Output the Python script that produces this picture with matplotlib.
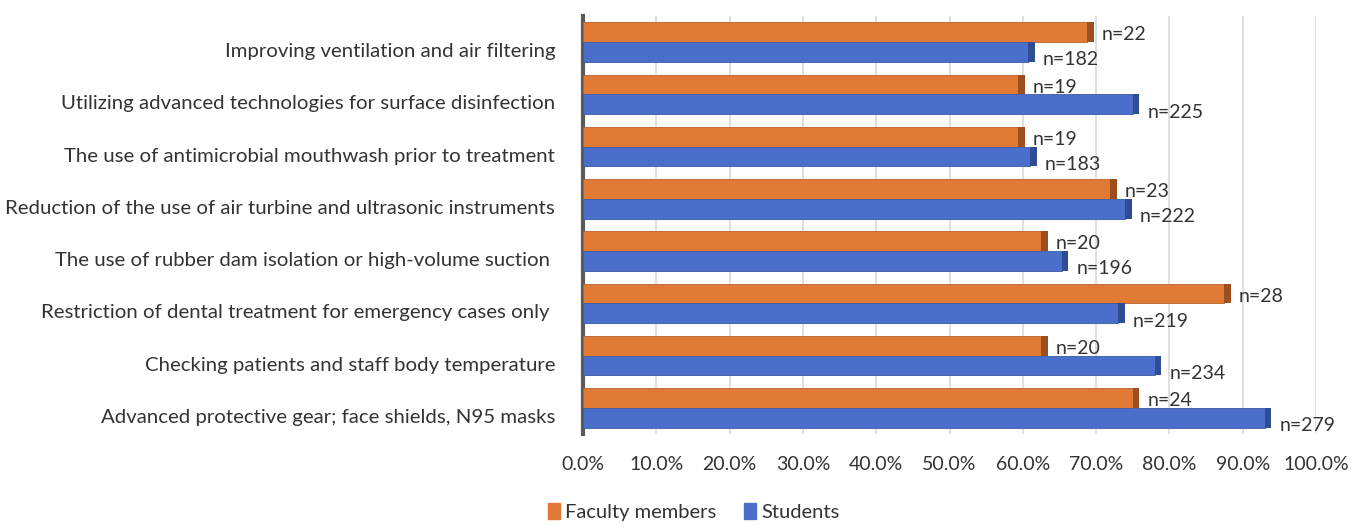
import matplotlib.pyplot as plt
import matplotlib.transforms as mtransforms
from matplotlib.patches import Patch

# datos (porcentajes)
categories = [
    "Improving ventilation and air filtering",
    "Utilizing advanced technologies for surface disinfection",
    "The use of antimicrobial mouthwash prior to treatment",
    "Reduction of the use of air turbine and ultrasonic instruments",
    "The use of rubber dam isolation or high-volume suction ",
    "Restriction of dental treatment for emergency cases only ",
    "Checking patients and staff body temperature",
    "Advanced protective gear; face shields, N95 masks",
]
faculty_pct = [68.8, 59.4, 59.4, 71.9, 62.5, 87.5, 62.5, 75.0]
students_pct = [60.7, 75.0, 61.0, 74.0, 65.3, 73.0, 78.0, 93.0]
faculty_n = ["n=22", "n=19", "n=19", "n=23", "n=20", "n=28", "n=20", "n=24"]
students_n = ["n=182", "n=225", "n=183", "n=222", "n=196", "n=219", "n=234", "n=279"]
xticks = [0, 10, 20, 30, 40, 50, 60, 70, 80, 90, 100]

plt.rcParams['font.family'] = ['Lato', 'DejaVu Sans']

orange = "#E07A35"
blue = "#4A6FCB"
txt = "#333333"

fig = plt.figure(figsize=(13.55, 5.26), dpi=100)
ax = fig.add_axes([583 / 1355, 92 / 526, 733 / 1355, 418 / 526])

pos = list(range(len(categories)))
h = 0.38
y_fac = [p - h / 2 for p in pos]
y_stu = [p + h / 2 for p in pos]

ax.barh(y_fac, faculty_pct, height=h, color=orange, edgecolor="#B8602A", linewidth=0.6, zorder=3)
ax.barh(y_stu, students_pct, height=h, color=blue, edgecolor="#3A5BA8", linewidth=0.6, zorder=3)

# tapa oscura al final de cada barra (efecto 3D)
ax.barh(y_fac, [0.9] * len(pos), left=faculty_pct, height=h, color="#9C4E1E", zorder=3)
ax.barh(y_stu, [0.9] * len(pos), left=students_pct, height=h, color="#2F4C95", zorder=3)

for i in pos:
    ax.text(faculty_pct[i] + 2.0, y_fac[i] + 0.05, faculty_n[i], va="center", ha="left",
            fontsize=14, color=txt, zorder=4)
    ax.text(students_pct[i] + 2.0, y_stu[i] + 0.15, students_n[i], va="center", ha="left",
            fontsize=14, color=txt, zorder=4)

ax.set_xlim(0, 100)
ax.set_ylim(len(pos) - 0.5, -0.5)
ax.set_xticks(xticks)
ax.set_xticklabels([f"{v:.1f}%" for v in xticks], fontsize=14, color=txt)
ax.set_yticks(pos)
ax.set_yticklabels(categories, fontsize=14.7, color=txt)
ax.tick_params(axis="y", length=0, pad=20)
ax.tick_params(axis="x", length=0, pad=16)
# las etiquetas de categoria van un poco mas abajo (perspectiva 3D)
shift = mtransforms.ScaledTranslation(0, -8 / 100, fig.dpi_scale_trans)
for lbl in ax.get_yticklabels():
    lbl.set_transform(lbl.get_transform() + shift)
ax.grid(axis="x", color="#D9D9D9", linewidth=1.2, zorder=0)
for s in ["top", "right", "bottom"]:
    ax.spines[s].set_visible(False)
ax.spines["left"].set_color("#5A5A5A")
ax.spines["left"].set_linewidth(3)

handles = [Patch(color=orange, label="Faculty members"), Patch(color=blue, label="Students")]
fig.legend(handles=handles, loc="lower center", bbox_to_anchor=(0.512, -0.025), ncol=2,
           frameon=False, fontsize=14.5, handlelength=0.6, handleheight=0.9,
           handletextpad=0.25, columnspacing=1.4, labelcolor=txt)

plt.savefig("out.png", dpi=100)
plt.close()
